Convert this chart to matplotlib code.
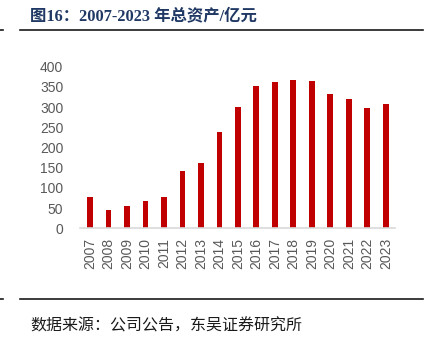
import matplotlib
matplotlib.use("Agg")
import matplotlib.pyplot as plt
from matplotlib.lines import Line2D

plt.rcParams['font.family'] = ['Liberation Sans', 'Noto Sans CJK SC', 'DejaVu Sans']

# --- data ---
years = [str(y) for y in range(2007, 2024)]
total_assets = [78, 46, 55, 68, 78, 142, 161, 238, 300, 351, 361, 367, 365, 332, 320, 299, 308]
y_ticks = [0, 50, 100, 150, 200, 250, 300, 350, 400]

title = "图16：2007-2023 年总资产/亿元"
source = "数据来源：公司公告，东吴证券研究所"

W, H = 431, 337
fig = plt.figure(figsize=(W / 100, H / 100), dpi=100)

# axes placed in pixel terms
ax = fig.add_axes([80 / W, (H - 228.3) / H, 315 / W, 161.6 / H])
x = range(len(years))
ax.bar(x, total_assets, width=0.31, color='#C00000', zorder=2)

ax.set_xlim(-0.54, 16.5)
ax.set_ylim(0, 400)
ax.set_yticks(y_ticks)
ax.set_xticks(list(x))
ax.set_xticklabels(years, rotation=90)
ax.tick_params(axis='both', length=0, labelsize=10, colors='#595959')
ax.tick_params(axis='y', pad=12)
ax.tick_params(axis='x', pad=7)
for side in ['top', 'right', 'left']:
    ax.spines[side].set_visible(False)
ax.spines['bottom'].set_color('#D9D9D9')
ax.spines['bottom'].set_linewidth(1.2)

# title, rules and source note
fig.text(30 / W, 1 - 16 / H, title, fontsize=11.8, fontweight='bold', color='#1F3864',
         family=['Liberation Serif', 'Noto Sans CJK SC'], ha='left', va='center')

for yy in (30, 299.3):
    fig.add_artist(Line2D([20 / W, 423 / W], [1 - yy / H, 1 - yy / H], color='#1a1a1a', lw=1.2))
    fig.add_artist(Line2D([0, 3 / W], [1 - yy / H, 1 - yy / H], color='#1a1a1a', lw=1.2))

fig.text(30 / W, 1 - 326 / H, source, fontsize=11.5, color='#1a1a1a',
         family=['Noto Sans CJK SC'], ha='left', va='center')

fig.savefig("out.png", dpi=100)
